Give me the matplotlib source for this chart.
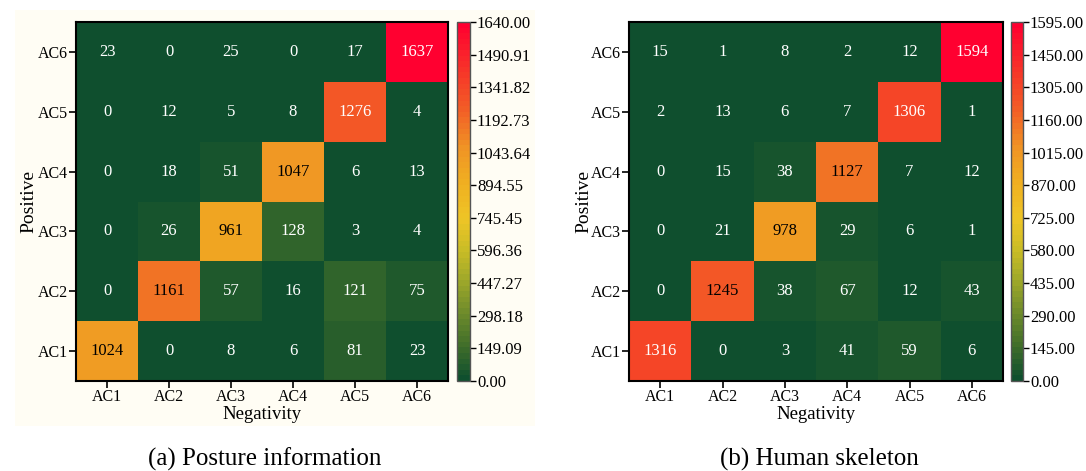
import numpy as np
import matplotlib
matplotlib.use("Agg")
import matplotlib.pyplot as plt
from matplotlib.colors import LinearSegmentedColormap, Normalize

plt.rcParams['font.family'] = ['Liberation Serif', 'DejaVu Serif']

classes = ["AC1", "AC2", "AC3", "AC4", "AC5", "AC6"]

# rows: true class AC1..AC6, columns: predicted class AC1..AC6
posture_counts = np.array([
    [1024, 0, 8, 6, 81, 23],
    [0, 1161, 57, 16, 121, 75],
    [0, 26, 961, 128, 3, 4],
    [0, 18, 51, 1047, 6, 13],
    [0, 12, 5, 8, 1276, 4],
    [23, 0, 25, 0, 17, 1637],
])
skeleton_counts = np.array([
    [1316, 0, 3, 41, 59, 6],
    [0, 1245, 38, 67, 12, 43],
    [0, 21, 978, 29, 6, 1],
    [0, 15, 38, 1127, 7, 12],
    [2, 13, 6, 7, 1306, 1],
    [15, 1, 8, 2, 12, 1594],
])
posture_vmax = 1640.0
skeleton_vmax = 1595.0
captions = ["(a) Posture information", "(b) Human skeleton"]

cmap = LinearSegmentedColormap.from_list(
    "green_yellow_red",
    [(0.00, "#0f4f2e"), (0.09, "#3f6d2a"), (0.18, "#6c8a2b"),
     (0.27, "#9ba62a"), (0.36, "#c8bc26"), (0.45, "#eec526"),
     (0.55, "#f0b021"), (0.65, "#f09425"), (0.75, "#f26226"),
     (0.85, "#f63c28"), (1.00, "#ff0030")],
    N=64,
)

W, H = 1086, 471
fig = plt.figure(figsize=(W / 100, H / 100), dpi=100)
fig.patch.set_facecolor("white")


def px_rect(x0, y0, x1, y1):
    return [x0 / W, 1 - y1 / H, (x1 - x0) / W, (y1 - y0) / H]


# cream backdrop behind the first panel
bg = fig.add_axes(px_rect(15, 10, 535, 426), zorder=-10)
bg.set_facecolor("#fffdf4")
bg.set_xticks([])
bg.set_yticks([])
for s in bg.spines.values():
    s.set_visible(False)

panels = [
    dict(data=posture_counts, vmax=posture_vmax, ax=(76, 22, 448, 381),
         cb=(457, 22, 470, 381), ylab_x=37, cap_x=265, dark_hi=0.75),
    dict(data=skeleton_counts, vmax=skeleton_vmax, ax=(629, 22, 1003, 381),
         cb=(1011, 22, 1023, 381), ylab_x=592, cap_x=819, dark_hi=0.80),
]

for p, cap in zip(panels, captions):
    x0, y0, x1, y1 = p["ax"]
    ax = fig.add_axes(px_rect(x0, y0, x1, y1))
    norm = Normalize(0, p["vmax"])
    im = ax.imshow(p["data"], cmap=cmap, norm=norm, origin="lower",
                   aspect="auto", interpolation="nearest")
    n = len(classes)
    ax.set_xticks(range(n))
    ax.set_yticks(range(n))
    ax.set_xticklabels(classes)
    ax.set_yticklabels(classes)
    ax.tick_params(direction="out", length=5, width=1.2, labelsize=11.5,
                   colors="black", pad=1)
    for s in ax.spines.values():
        s.set_linewidth(1.5)
    ax.set_xlabel("Negativity", fontsize=13.5)
    ax.set_ylabel("Positive", fontsize=14)
    ax.xaxis.set_label_coords(0.5, (y1 - 406) / (y1 - y0))
    ax.yaxis.set_label_coords((p["ylab_x"] - x0) / (x1 - x0), 0.5)

    for i in range(n):
        for j in range(n):
            v = p["data"][i, j]
            frac = v / p["vmax"]
            color = "black" if 0.5 <= frac < p["dark_hi"] else "white"
            ax.text(j, i, str(v), ha="center", va="center",
                    color=color, fontsize=12)

    cax = fig.add_axes(px_rect(*p["cb"]))
    cb = fig.colorbar(im, cax=cax)
    ticks = np.linspace(0, p["vmax"], 12)
    cb.set_ticks(ticks)
    cb.set_ticklabels([f"{t:.2f}" for t in ticks])
    cb.ax.tick_params(labelsize=12, length=4, width=1, pad=1)
    cb.outline.set_edgecolor("#555555")
    cb.outline.set_linewidth(1.0)

    fig.text(p["cap_x"] / W, 1 - 459 / H, cap, ha="center", va="center",
             fontsize=18)

fig.savefig("out.png", dpi=100)
